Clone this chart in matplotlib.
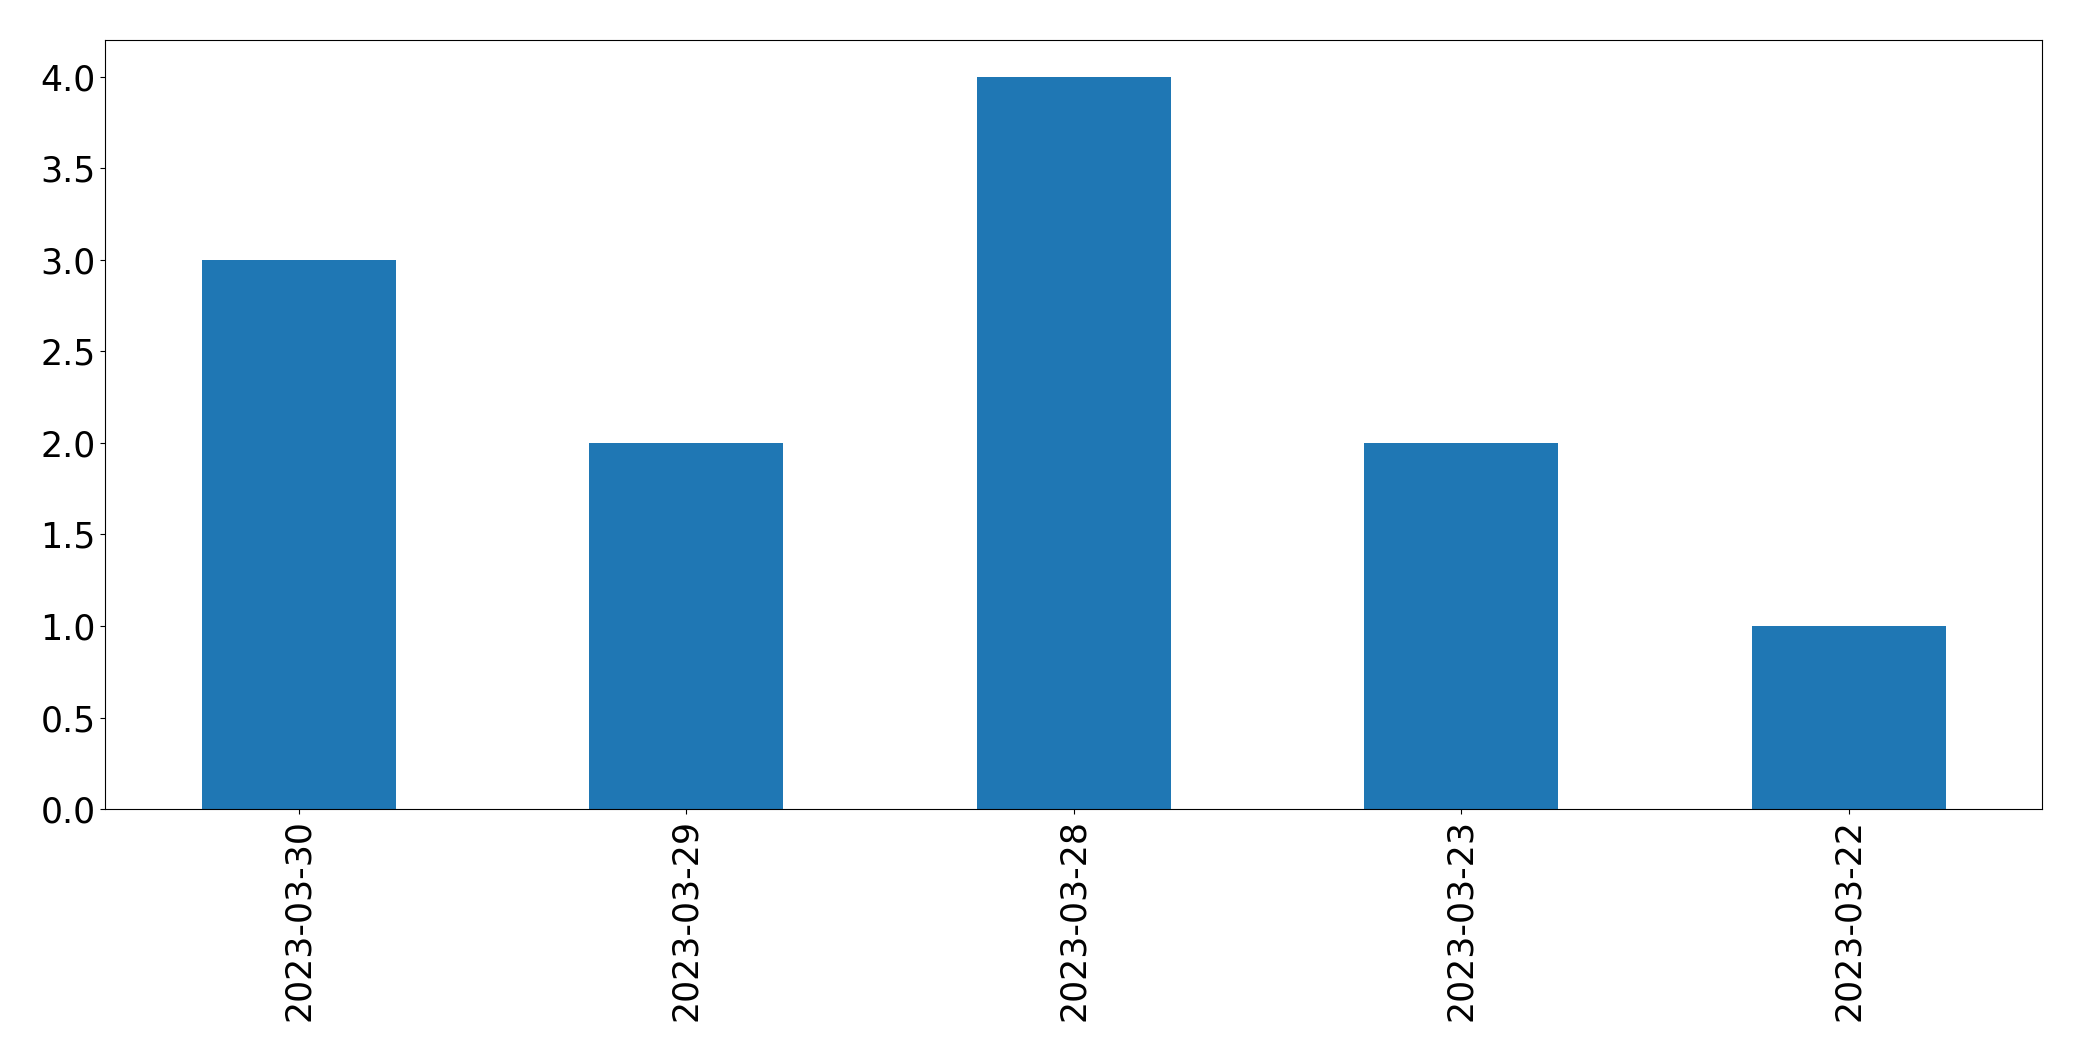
import matplotlib
matplotlib.use("Agg")
import matplotlib.pyplot as plt
import pandas as pd

FS = 25

plt.rcParams.update({
    "font.size": FS,
    "xtick.labelsize": FS,
    "ytick.labelsize": FS,
})

dates = ["2023-03-30", "2023-03-29", "2023-03-28", "2023-03-23", "2023-03-22"]
counts = [3, 2, 4, 2, 1]

series = pd.Series(counts, index=dates)

fig, ax = plt.subplots(figsize=(20.82, 10.61), dpi=100)
series.plot(kind="bar", ax=ax, color="#1f77b4")

fig.subplots_adjust(left=0.0505, right=0.981, top=0.962, bottom=0.2375)
fig.savefig("out.png", dpi=100)
plt.close(fig)
